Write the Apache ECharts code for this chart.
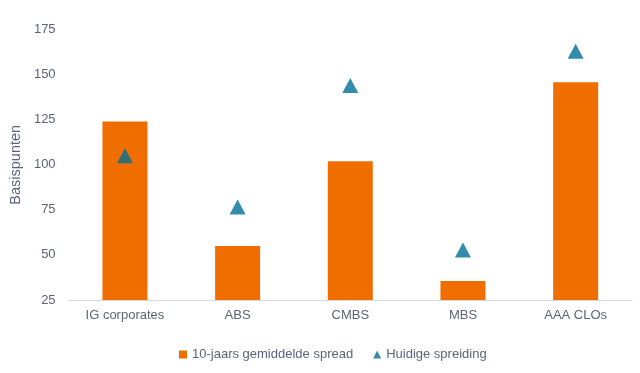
<!DOCTYPE html>
<html>
<head>
<meta charset="utf-8">
<script src="https://cdn.jsdelivr.net/npm/echarts@6/dist/echarts.min.js"></script>
<style>html,body{margin:0;padding:0;background:#fff}#c{width:640px;height:373px}</style>
</head>
<body>
<div id="c"></div>
<script>
const categories = ['IG corporates', 'ABS', 'CMBS', 'MBS', 'AAA CLOs'];
const avgSpread = [124, 55, 102, 35.5, 145.7];
const currentSpread = [105, 76.6, 144, 52.7, 163];
const yTicks = [25, 50, 75, 100, 125, 150, 175];
const seriesNames = ['10-jaars gemiddelde spread', 'Huidige spreiding'];

const textColor = '#5b6478';
const chart = echarts.init(document.getElementById('c'), null, {renderer: 'canvas'});
chart.setOption({
  animation: false,
  backgroundColor: '#ffffff',
  textStyle: {fontFamily: 'Liberation Sans, Arial, sans-serif'},
  grid: {left: 68, right: 8, top: 29.5, bottom: 73, containLabel: false},
  legend: {
    bottom: 7,
    left: 174,
    itemWidth: 8,
    itemHeight: 8,
    itemGap: 20,
    textStyle: {color: textColor, fontSize: 13},
    data: [
      {name: seriesNames[0], icon: 'rect'},
      {name: seriesNames[1], icon: 'triangle'}
    ]
  },
  xAxis: {
    type: 'category',
    data: categories,
    axisLine: {lineStyle: {color: '#d9d9d9', width: 1}},
    axisTick: {show: false},
    axisLabel: {color: textColor, fontSize: 13, margin: 9}
  },
  yAxis: {
    type: 'value',
    min: yTicks[0],
    max: yTicks[yTicks.length - 1],
    interval: 25,
    name: 'Basispunten',
    nameLocation: 'middle',
    nameGap: 45,
    nameTextStyle: {color: textColor, fontSize: 14.5},
    axisLine: {show: false},
    axisTick: {show: false},
    splitLine: {show: false},
    axisLabel: {color: textColor, fontSize: 13, margin: 13}
  },
  series: [
    {
      name: seriesNames[0],
      type: 'bar',
      data: avgSpread,
      barWidth: 45,
      itemStyle: {color: '#f06e00'}
    },
    {
      name: seriesNames[1],
      type: 'scatter',
      data: currentSpread,
      symbol: 'triangle',
      symbolSize: [16, 15],
      itemStyle: {color: '#006f96'},
      z: 5
    }
  ]
});
</script>
</body>
</html>
